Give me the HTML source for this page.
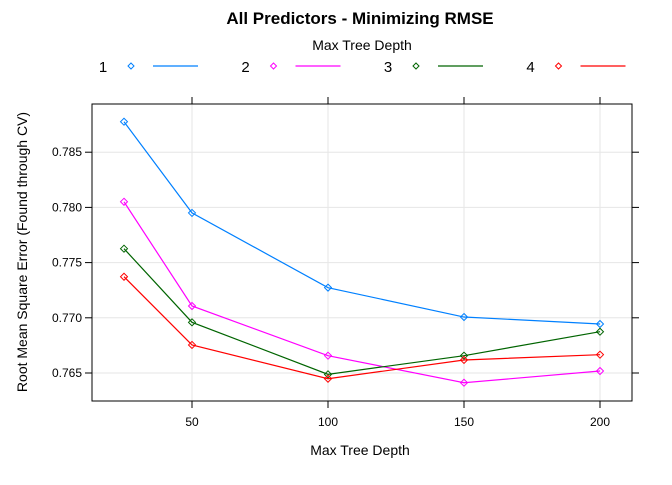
<!DOCTYPE html>
<html><head><meta charset="utf-8"><style>
body{margin:0;background:#fff;font-family:"Liberation Sans",Arial,sans-serif}
svg text{font-family:"Liberation Sans",Arial,sans-serif}
</style></head><body>
<svg id="chart" width="672" height="480" xmlns="http://www.w3.org/2000/svg">
<text x="360" y="24" text-anchor="middle" font-size="17" font-weight="bold">All Predictors - Minimizing RMSE</text>
<text x="362" y="50" text-anchor="middle" font-size="14">Max Tree Depth</text>
<g id="legend"></g>
<g id="grid"></g>
<g id="axes"></g>
<g id="series"></g>
<rect x="92" y="104" width="540" height="297" fill="none" stroke="#000" stroke-width="1"/>
<text x="360" y="455" text-anchor="middle" font-size="14">Max Tree Depth</text>
<text transform="translate(27,252) rotate(-90)" text-anchor="middle" font-size="14">Root Mean Square Error (Found through CV)</text>
</svg>
<script>
const depths=[25,50,100,150,200];
const seriesNames=["1","2","3","4"];
const seriesColors=["#0080ff","#ff00ff","#006400","#ff0000"];
const s1=[0.78776,0.7795,0.77273,0.77007,0.76944];
const s2=[0.78051,0.77107,0.76657,0.76412,0.76518];
const s3=[0.77626,0.76959,0.76488,0.76657,0.76874];
const s4=[0.77372,0.76754,0.76448,0.76618,0.76666];
const xTicks=[50,100,150,200];
const yTicks=[0.765,0.770,0.775,0.780,0.785];
const yTickLabels=["0.765","0.770","0.775","0.780","0.785"];
const allSeries=[s1,s2,s3,s4];
const NS="http://www.w3.org/2000/svg";
function xs(v){return 192+(v-50)*(408/150);}
function ys(v){return 373-(v-0.765)*11040;}
function mk(tag,attrs,parent){const e=document.createElementNS(NS,tag);for(const k in attrs)e.setAttribute(k,attrs[k]);parent.appendChild(e);return e;}
const grid=document.getElementById('grid'),axes=document.getElementById('axes'),ser=document.getElementById('series'),leg=document.getElementById('legend');
xTicks.forEach(t=>{const x=xs(t);
 const g=mk('line',{x1:x,x2:x,y1:104,y2:401,stroke:'#e6e6e6'},grid);
 
 
 mk('line',{x1:x,x2:x,y1:401,y2:408,stroke:'#000'},axes);
 mk('line',{x1:x,x2:x,y1:97,y2:104,stroke:'#000'},axes);
 const tx=mk('text',{x:x,y:426,'text-anchor':'middle','font-size':12},axes);tx.textContent=t;
 
 
});
yTicks.forEach((t,i)=>{const y=ys(t);
 const g=mk('line',{x1:92,x2:632,y1:y,y2:y,stroke:'#e6e6e6'},grid);
 
 
 mk('line',{x1:85,x2:92,y1:y,y2:y,stroke:'#000'},axes);
 mk('line',{x1:632,x2:639,y1:y,y2:y,stroke:'#000'},axes);
 const tx=mk('text',{x:82,y:y+4,'text-anchor':'end','font-size':12},axes);tx.textContent=yTickLabels[i];
 
 
});
allSeries.forEach((s,i)=>{const c=seriesColors[i];
 const pts=s.map((v,j)=>xs(depths[j])+','+ys(v)).join(' ');
 const pl=mk('polyline',{points:pts,fill:'none',stroke:c,'stroke-width':1.2},ser);
 
 
 s.forEach((v,j)=>{const x=xs(depths[j]),y=ys(v);
  const p=mk('polygon',{points:`${x},${y-3.5} ${x+3.5},${y} ${x},${y+3.5} ${x-3.5},${y}`,fill:'none',stroke:c,'stroke-width':1},ser);
  
  
 });
 const lx=103+i*142.5,ly=66;
 const t=mk('text',{x:lx,y:ly+6,'text-anchor':'middle','font-size':15},leg);t.textContent=seriesNames[i];
 
 
 const px=lx+28;
 mk('polygon',{points:`${px},${ly-3} ${px+3},${ly} ${px},${ly+3} ${px-3},${ly}`,fill:'none',stroke:c},leg);
 mk('line',{x1:lx+50,x2:lx+95,y1:ly,y2:ly,stroke:c,'stroke-width':1.2},leg);
});
</script>
</body></html>
